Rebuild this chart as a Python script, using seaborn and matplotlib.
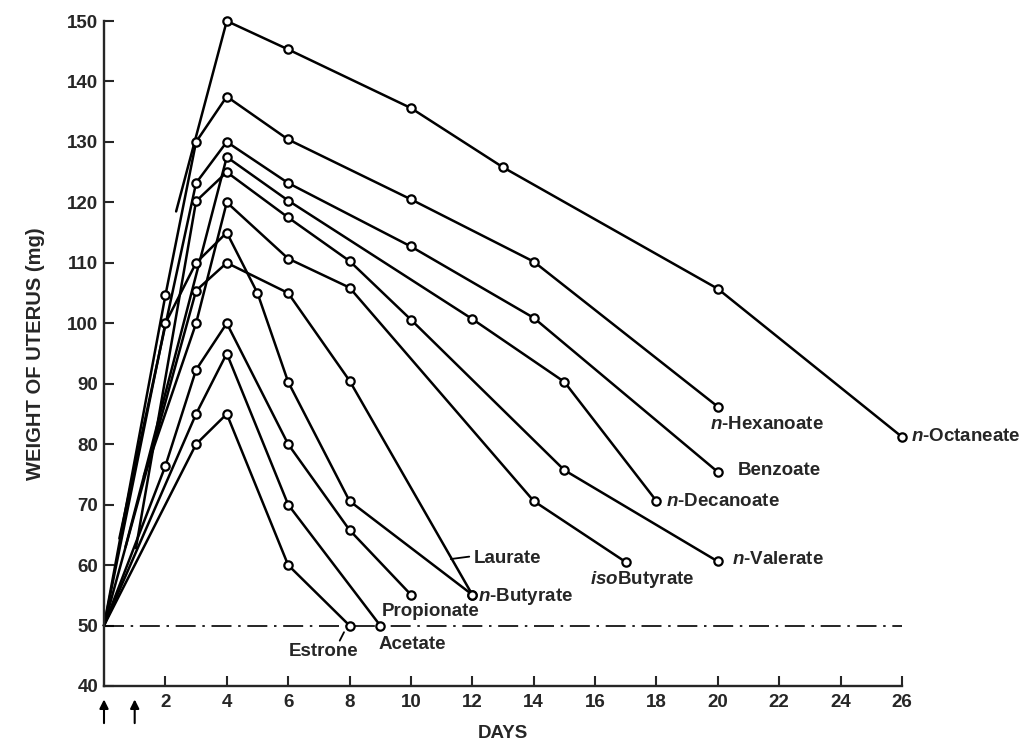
import pandas as pd
import matplotlib
matplotlib.use("Agg")
import matplotlib.pyplot as plt
import seaborn as sns

# first point of every series is where the line starts (no circle drawn there)
octanoate_days = [2.35, 4, 6, 10, 13, 20, 26]
octanoate_wt = [118.5, 150, 145.3, 135.6, 125.8, 105.7, 81.2]
hexanoate_days = [0, 2, 3, 4, 6, 10, 14, 20]
hexanoate_wt = [50, 104.6, 130, 137.5, 130.4, 120.5, 110.2, 86.2]
benzoate_days = [0.5, 3, 4, 6, 10, 14, 20]
benzoate_wt = [64.4, 123.2, 130, 123.2, 112.7, 100.9, 75.4]
decanoate_days = [0.7, 4, 6, 12, 15, 18]
decanoate_wt = [63, 127.5, 120.3, 100.7, 90.3, 70.6]
valerate_days = [1.04, 3, 4, 6, 8, 10, 15, 20]
valerate_wt = [62.8, 120.2, 125, 117.5, 110.3, 100.6, 75.7, 60.6]
isobutyrate_days = [1.3, 3, 4, 6, 8, 14, 17]
isobutyrate_wt = [74.7, 100, 120, 110.7, 105.9, 70.6, 60.5]
butyrate_days = [0, 2, 3, 4, 5, 6, 8, 12]
butyrate_wt = [50, 100, 110, 115, 105, 90.3, 70.6, 55.1]
laurate_days = [0, 3, 4, 6, 8, 12]
laurate_wt = [50, 105.4, 110, 105, 90.5, 55.1]
propionate_days = [0, 2, 3, 4, 6, 8, 10]
propionate_wt = [50, 76.4, 92.3, 100, 80, 65.8, 55.1]
acetate_days = [0, 3, 4, 6, 9]
acetate_wt = [50, 85, 95, 70, 50]
estrone_days = [0, 3, 4, 6, 8]
estrone_wt = [50, 80, 85, 60, 50]

compound_names = ["n-Octanoate", "n-Hexanoate", "Benzoate", "n-Decanoate", "n-Valerate",
                  "isoButyrate", "n-Butyrate", "Laurate", "Propionate", "Acetate", "Estrone"]

# curve labels as printed on the figure
label_texts = [r"$\mathit{n}$-Octaneate", r"$\mathit{n}$-Hexanoate", "Benzoate",
               r"$\mathit{n}$-Decanoate", r"$\mathit{n}$-Valerate", r"$\mathit{iso}$Butyrate",
               "Laurate", r"$\mathit{n}$-Butyrate", "Propionate", "Estrone", "Acetate"]
label_x = [26.3, 19.75, 20.65, 18.3, 20.45, 17.55, 12.05, 12.2, 10.65, 7.15, 10.05]
label_y = [81.2, 83.3, 75.7, 70.6, 61.0, 57.6, 61.1, 54.8, 52.3, 45.7, 46.8]
label_ha = ["left", "left", "left", "left", "left", "center", "left", "left",
            "center", "center", "center"]

baseline = 50
injection_days = [0, 1]
x_ticks = list(range(2, 27, 2))
y_ticks = list(range(40, 151, 10))

series = [(octanoate_days, octanoate_wt), (hexanoate_days, hexanoate_wt),
          (benzoate_days, benzoate_wt), (decanoate_days, decanoate_wt),
          (valerate_days, valerate_wt), (isobutyrate_days, isobutyrate_wt),
          (butyrate_days, butyrate_wt), (laurate_days, laurate_wt),
          (propionate_days, propionate_wt), (acetate_days, acetate_wt),
          (estrone_days, estrone_wt)]

rows = []
for name, (days, wts) in zip(compound_names, series):
    for i, (d, w) in enumerate(zip(days, wts)):
        rows.append({"compound": name, "day": d, "weight": w, "marked": i > 0})
df = pd.DataFrame(rows)

sns.set_style("ticks")
plt.rcParams['font.family'] = ['Liberation Sans', 'DejaVu Sans']
plt.rcParams['font.weight'] = 'bold'
plt.rcParams['mathtext.fontset'] = 'custom'
plt.rcParams['mathtext.it'] = 'Liberation Sans:italic:bold'
plt.rcParams['mathtext.rm'] = 'Liberation Sans:bold'

fig = plt.figure(figsize=(10.26, 7.45), dpi=100)
ax = fig.add_axes([104 / 1026, 1 - 686 / 745, (902 - 104) / 1026, (686 - 21) / 745])

# control level
ax.axhline(baseline, color='black', lw=1.2, linestyle=(0, (12, 4, 1.5, 4)), zorder=1)

sns.lineplot(data=df, x="day", y="weight", units="compound", estimator=None, sort=False,
             color="black", lw=1.8, ax=ax, legend=False, zorder=2, clip_on=False)
sns.scatterplot(data=df[df["marked"]], x="day", y="weight", color="white",
                edgecolor="black", linewidth=1.6, s=36, ax=ax, legend=False, zorder=3,
                clip_on=False)

for txt, x, y, ha in zip(label_texts, label_x, label_y, label_ha):
    ax.text(x, y, txt, ha=ha, va="center", fontsize=13.5, fontweight="bold", clip_on=False)

# small leader strokes to labels
ax.plot([11.3, 11.9], [61.0, 61.4], color="black", lw=1.3, clip_on=False)
ax.plot([7.82, 7.68], [48.9, 47.5], color="black", lw=1.3, clip_on=False)

# injection arrows under the axis
for d in injection_days:
    ax.annotate("", xy=(d, -0.016), xytext=(d, -0.06), xycoords=ax.get_xaxis_transform(),
                arrowprops=dict(arrowstyle="-|>", color="black", lw=1.5, mutation_scale=13),
                annotation_clip=False)

ax.set_xlim(0, 26)
ax.set_ylim(40, 150)
ax.set_xticks(x_ticks)
ax.set_yticks(y_ticks)
ax.tick_params(direction="in", length=7, width=1.5, labelsize=13.5, pad=4)
ax.tick_params(axis="x", pad=6)
for lab in ax.get_xticklabels() + ax.get_yticklabels():
    lab.set_fontweight("bold")
sns.despine(ax=ax)
for sp in ["left", "bottom"]:
    ax.spines[sp].set_linewidth(1.7)

ax.set_xlabel("DAYS", fontsize=13.5, fontweight="bold", labelpad=10)
ax.set_ylabel("WEIGHT OF UTERUS (mg)", fontsize=14.5, fontweight="bold", labelpad=16)

plt.savefig("out.png", dpi=100)
plt.close()
